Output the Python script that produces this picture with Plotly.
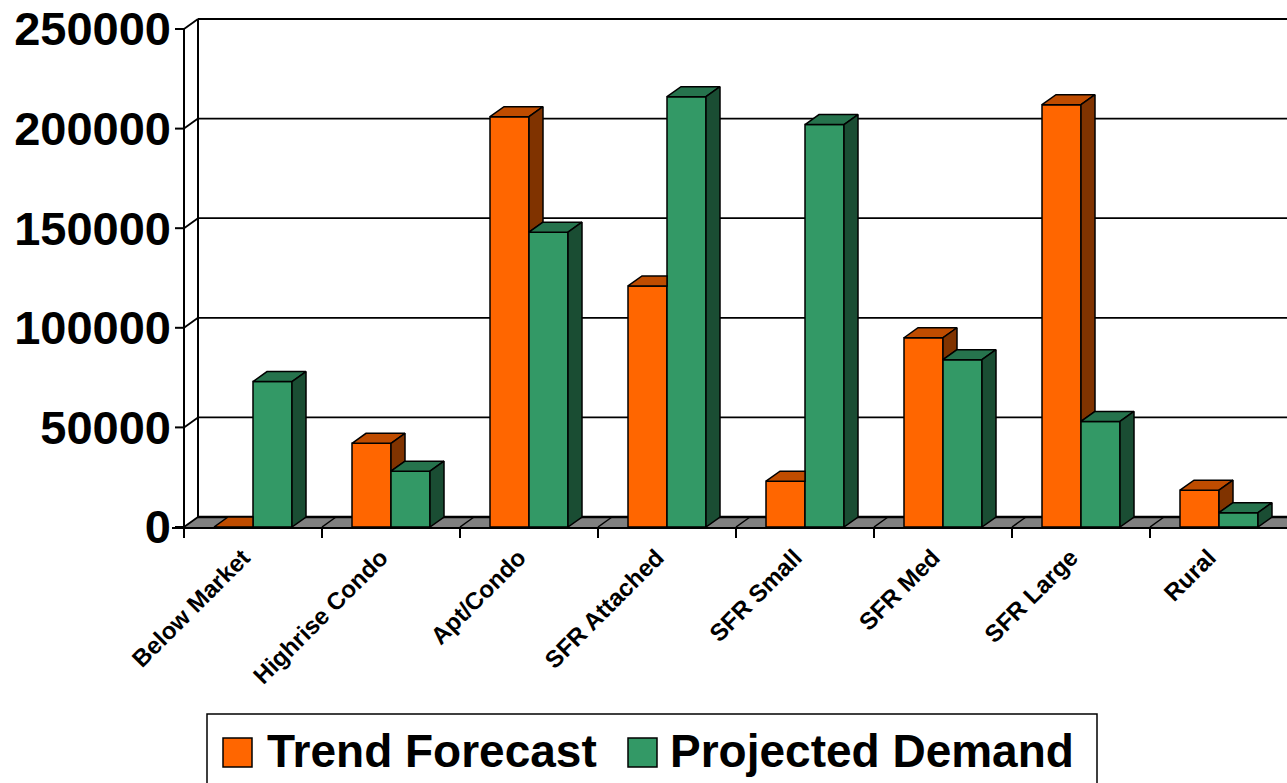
import plotly.graph_objects as go

# ---------------- data ----------------
categories = ["Below Market", "Highrise Condo", "Apt/Condo", "SFR Attached",
              "SFR Small", "SFR Med", "SFR Large", "Rural"]
trend_forecast = [0, 42000, 206000, 121000, 23000, 95000, 212000, 18500]
projected_demand = [73000, 28000, 148000, 216000, 202000, 84000, 53000, 7200]
series_names = ["Trend Forecast", "Projected Demand"]
y_tick_values = [0, 50000, 100000, 150000, 200000, 250000]
y_tick_labels = ["0", "50000", "100000", "150000", "200000", "250000"]

# ---------------- styles / geometry ----------------
FRONT = ["#FF6600", "#339966"]
TOP = ["#BF4C00", "#26734D"]
SIDE = ["#803300", "#1A4D33"]
FLOOR = "#808080"
FONT = "Liberation Sans, Arial, sans-serif"

FIG_W, FIG_H = 1287, 783
M_L, M_R, M_T, M_B = 172, 0, 14, 256
PLOT_W = FIG_W - M_L - M_R
PLOT_H = FIG_H - M_T - M_B
CAT_PX = 138.0                 # pixels per category
AXIS_PX = 184                  # pixel x of front value axis
UNITS_PER_PX = 250000 / 498.0  # value units per vertical pixel

X0 = -(AXIS_PX - M_L) / CAT_PX
X1 = X0 + PLOT_W / CAT_PX
Y_TOP = PLOT_H * UNITS_PER_PX
DX = 14 / CAT_PX               # depth offset (x)
DY = 10 * UNITS_PER_PX         # depth offset (y)
BAR_W = 39 / CAT_PX
TICK_LEN = 9 / CAT_PX
XFAR = X1 + 1

n = len(categories)
values = [trend_forecast, projected_demand]
centers = [i + 0.5 for i in range(n)]

fig = go.Figure()

# front faces
for s in range(2):
    fig.add_trace(go.Bar(
        x=centers, y=values[s], name=series_names[s],
        marker=dict(color=FRONT[s], line=dict(color="black", width=1.5)),
        showlegend=False, hoverinfo="x+y+name"))

# top and side faces (3-D look), drawn from the same values
for s in range(2):
    tx, ty, sx, sy = [], [], [], []
    for i in range(n):
        v = values[s][i]
        left = centers[i] - BAR_W + s * BAR_W
        right = left + BAR_W
        other = values[1][i] if s == 0 else 0
        if s == 0 and other > v:
            tx += [left, right, right, left + DX, left, None]
            ty += [v, v, v + DY, v + DY, v, None]
        else:
            tx += [left, right, right + DX, left + DX, left, None]
            ty += [v, v, v + DY, v + DY, v, None]
        lower = min(other, v) if s == 0 else 0
        if v > lower:
            sx += [right, right + DX, right + DX, right, right, None]
            sy += [lower, lower + DY, v + DY, v, lower, None]
    fig.add_trace(go.Scatter(x=tx, y=ty, mode="lines", fill="toself",
                             fillcolor=TOP[s], line=dict(color="black", width=1.5),
                             showlegend=False, hoverinfo="skip"))
    fig.add_trace(go.Scatter(x=sx, y=sy, mode="lines", fill="toself",
                             fillcolor=SIDE[s], line=dict(color="black", width=1.5),
                             showlegend=False, hoverinfo="skip"))

# walls, floor, gridlines (below traces)
shapes = []
shapes.append(dict(type="path", xref="x", yref="y", layer="below",
                   path=f"M0,0 L{XFAR},0 L{XFAR + DX},{DY} L{DX},{DY} Z",
                   fillcolor=FLOOR, line=dict(width=0)))
for i in range(1, n + 1):
    shapes.append(dict(type="line", xref="x", yref="y", layer="below",
                       x0=i, y0=0, x1=i + DX, y1=DY,
                       line=dict(color="black", width=1.5)))
for v in y_tick_values:
    shapes.append(dict(type="line", xref="x", yref="y", layer="below",
                       x0=DX, y0=v + DY, x1=XFAR, y1=v + DY,
                       line=dict(color="black", width=2.5 if v == 0 else 1.8)))
    shapes.append(dict(type="line", xref="x", yref="y", layer="below",
                       x0=0, y0=v, x1=DX, y1=v + DY,
                       line=dict(color="black", width=1.8)))
    shapes.append(dict(type="line", xref="x", yref="y", layer="below",
                       x0=-TICK_LEN, y0=v, x1=0, y1=v,
                       line=dict(color="black", width=2)))
shapes.append(dict(type="line", xref="x", yref="y", layer="below",
                   x0=DX, y0=DY, x1=DX, y1=y_tick_values[-1] + DY,
                   line=dict(color="black", width=2)))
shapes.append(dict(type="line", xref="x", yref="y", layer="below",
                   x0=0, y0=0, x1=0, y1=y_tick_values[-1],
                   line=dict(color="black", width=2)))


# custom legend (pixel layout positions)
def pxx(px):
    return (px - M_L) / PLOT_W


def pxy(py):
    return (M_T + PLOT_H - py) / PLOT_H


shapes.append(dict(type="rect", xref="paper", yref="paper",
                   x0=pxx(207), x1=pxx(1097), y0=pxy(714), y1=pxy(800),
                   fillcolor="white", line=dict(color="black", width=1.5)))
sw_x = [223, 628]
tx_x = [265, 668]
annotations = []
for s in range(2):
    shapes.append(dict(type="rect", xref="paper", yref="paper",
                       x0=pxx(sw_x[s]), x1=pxx(sw_x[s] + 29),
                       y0=pxy(738), y1=pxy(767),
                       fillcolor=FRONT[s], line=dict(color="black", width=1.5)))
    annotations.append(dict(xref="paper", yref="paper", x=pxx(tx_x[s]), y=pxy(751),
                            xanchor="left", yanchor="middle", showarrow=False,
                            text=series_names[s],
                            font=dict(family=FONT, size=46, color="black", weight="bold")))

fig.update_layout(
    width=FIG_W, height=FIG_H,
    margin=dict(l=M_L, r=M_R, t=M_T, b=M_B, pad=0),
    paper_bgcolor="white", plot_bgcolor="white",
    barmode="group", bargap=1 - 2 * BAR_W, bargroupgap=0,
    showlegend=False,
    shapes=shapes, annotations=annotations,
    xaxis=dict(range=[X0, X1], showgrid=False, zeroline=False,
               tickmode="array", tickvals=centers, ticktext=categories,
               tickangle=-45, ticks="", ticklabelshift=-10, ticklabelstandoff=5,
               tickfont=dict(family=FONT, size=24, color="black", weight="bold"),
               showline=True, linecolor="black", linewidth=2,
               minor=dict(tickmode="array", tickvals=list(range(0, n + 1)),
                          ticks="outside", ticklen=9, tickwidth=2,
                          tickcolor="black", showgrid=False)),
    yaxis=dict(range=[0, Y_TOP], showgrid=False, zeroline=False,
               tickmode="array", tickvals=y_tick_values, ticktext=y_tick_labels,
               ticks="", showline=False,
               tickfont=dict(family=FONT, size=47, color="black", weight="bold")),
)

fig.write_html("out.html")
